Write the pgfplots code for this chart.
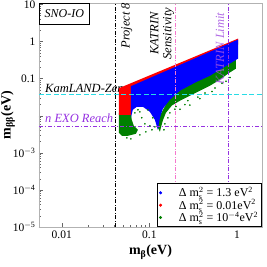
\documentclass[border=0pt]{standalone}
\usepackage{fontspec}
\setmainfont{Liberation Serif}
\usepackage{pgfplots}
\pgfplotsset{compat=1.18}
\definecolor{cyanl}{RGB}{40,220,230}
\definecolor{purp}{RGB}{150,50,225}
\definecolor{purpt}{RGB}{165,85,225}
\definecolor{pinkl}{RGB}{245,120,205}
\definecolor{dgreen}{RGB}{0,128,0}
\pgfplotsset{dotleg/.style={legend image code/.code={\path (0pt,0pt) (17pt,0pt); \draw[##1] plot coordinates {(1pt,0pt)};}}}
\begin{document}
\begin{tikzpicture}
\begin{axis}[
  at={(0,0)}, anchor=south west,
  scale only axis, width=223pt, height=224pt,
  xmode=log, ymode=log,
  xmin=0.0055, xmax=1.93, ymin=1e-5, ymax=11,
  xtick={0.01,0.1,1}, xticklabels={0.01,0.1,1},
  ytick={1e-5,1e-4,1e-3,1e-2,0.1,1,10},
  yticklabels={10\textsuperscript{$-$5},10\textsuperscript{$-$4},10\textsuperscript{$-$3},{},0.1,1,10},
  xtick pos=lower, ytick pos=left,
  tick align=inside,
  major tick length=4pt, minor tick length=2pt,
  tick style={gray!80!black, line width=0.4pt},
  axis line style={draw=gray!60, line width=0.8pt},
  tick label style={font=\fontsize{11.5}{12}\selectfont},
  xlabel={\fontsize{14}{15}\selectfont\textbf{m}\textsubscript{\bfseries β}\textbf{(eV)}},
  ylabel={\fontsize{14}{15}\selectfont\textbf{m}\textsubscript{\bfseries ββ}\textbf{(eV)}},
  ylabel style={at={(axis description cs:-0.139,0.5)}, anchor=center},
  legend style={at={(rel axis cs:1,0)}, anchor=south east, draw=black, line width=0.8pt,
    font=\fontsize{12}{12.5}\selectfont, inner sep=1.5pt, row sep=-2.8pt},
  legend cell align=left,
]
% background text (data drawn over it)
\node[anchor=base west, font=\fontsize{12.5}{13}\selectfont\itshape] at (axis cs:0.0059,0.0419) {KamLAND-Zen};
\node[anchor=base west, font=\fontsize{12.5}{13}\selectfont\itshape, text=purp] at (axis cs:0.0059,0.00647) {n EXO Reach};

% green band (right part)
\addplot[draw=none, fill=dgreen, forget plot] coordinates {
(0.974,0.446) (0.974,0.187) (0.789,0.1365) (0.639,0.094) (0.491,0.0647) (0.378,0.0474)
(0.290,0.0347) (0.2233,0.0254) (0.181,0.0190) (0.1544,0.0120) (0.1426,0.0075)
(0.1353,0.00474) (0.132,0.0037) (0.1219,0.00537) (0.132,0.01) (0.1715,0.0326)} -- cycle;
% green block (left part)
\addplot[draw=none, fill=dgreen, forget plot] coordinates {
(0.0448,0.012) (0.0615,0.012) (0.063,0.0078) (0.0665,0.00537) (0.074,0.00419)
(0.0702,0.00327) (0.0568,0.00288) (0.0485,0.00288) (0.0448,0.00348)} -- cycle;
% red region
\addplot[draw=none, fill=red, forget plot] coordinates {
(0.0448,0.0553) (1.027,1.205) (1.027,0.830) (0.0615,0.0271) (0.0615,0.0105) (0.0448,0.0105)} -- cycle;
% blue region
\addplot[draw=none, fill=blue, forget plot] coordinates {
(0.0615,0.0627) (1.027,1.132) (1.027,0.348) (0.729,0.211) (0.491,0.12) (0.331,0.078)
(0.2233,0.0474) (0.1715,0.0270) (0.1426,0.0155) (0.132,0.00883) (0.125,0.00419)
(0.1156,0.0078) (0.1014,0.0128) (0.0843,0.0175) (0.0720,0.0175) (0.0648,0.0145)
(0.0615,0.00883)} -- cycle;
% scattered green points
\addplot[only marks, mark=*, mark size=0.6pt, dgreen, forget plot] coordinates {
(0.674,0.075) (0.561,0.056) (0.431,0.041) (0.358,0.032) (0.275,0.0255) (0.2545,0.0200)
(0.2009,0.0178) (0.1715,0.0120) (0.1627,0.00883) (0.1955,0.0150) (0.378,0.0290)
(0.518,0.0450) (0.290,0.0195) (0.1503,0.00608) (0.1465,0.00419) (0.2233,0.0150)
(0.832,0.1080) (0.7485,0.085) (0.0889,0.00608) (0.1014,0.00537) (0.082,0.00883)
(0.0779,0.0128) (0.1096,0.00883) (0.0961,0.0145) (0.074,0.0145) (0.0683,0.012)
(0.0553,0.00254) (0.0615,0.00239) (0.0779,0.00306) (0.0912,0.0037) (0.1069,0.00419)
(0.1156,0.00505)};

% reference lines
\addplot[cyanl, line width=1.3pt, dash pattern=on 5pt off 2.5pt, forget plot] coordinates {(0.0055,0.037) (1.93,0.037)};
\addplot[purp, line width=1.1pt, dash pattern=on 4pt off 2pt on 1pt off 2pt, forget plot] coordinates {(0.0055,0.005) (1.93,0.005)};
\addplot[black, line width=0.8pt, dash pattern=on 4pt off 1.5pt on 1pt off 1.5pt, forget plot] coordinates {(0.041,1e-5) (0.041,11)};
\addplot[pinkl, line width=0.8pt, dash pattern=on 4pt off 1.5pt on 1pt off 1.5pt, forget plot] coordinates {(0.2,1e-5) (0.2,11)};
\addplot[purp, line width=0.9pt, dash pattern=on 4pt off 1.5pt on 1pt off 1.5pt, forget plot] coordinates {(0.8,1e-5) (0.8,11)};

% annotations
\node[rotate=90, font=\fontsize{12.5}{13}\selectfont\itshape] at (axis cs:0.0553,2.7) {Project 8};
\node[rotate=90, align=center, font=\fontsize{12.5}{13}\selectfont\itshape] at (axis cs:0.14,1.64) {KATRIN\\Sensitivity};
\node[rotate=90, font=\fontsize{12.5}{13}\selectfont\itshape, text=purpt, text opacity=0.85] at (axis cs:0.639,0.647) {KATRIN Limit};
\node[draw=black, line width=0.6pt, anchor=north west, minimum width=50pt, minimum height=21pt,
  font=\fontsize{12}{13}\selectfont\itshape] at (rel axis cs:0,1) {SNO-IO};

% legend
\addlegendimage{only marks, mark=*, mark size=1.1pt, blue, dotleg}
\addlegendentry{Δ $\mathrm{m}_\mathrm{s}^2$ = 1.3 eV\textsuperscript{2}}
\addlegendimage{only marks, mark=*, mark size=1.1pt, red, dotleg}
\addlegendentry{Δ $\mathrm{m}_\mathrm{s}^2$ = 0.01eV\textsuperscript{2}}
\addlegendimage{only marks, mark=*, mark size=1.1pt, dgreen, dotleg}
\addlegendentry{Δ $\mathrm{m}_\mathrm{s}^2$ = 10\textsuperscript{$-$4}eV\textsuperscript{2}}
\end{axis}
\pgfresetboundingbox
\path (-39pt,-40pt) rectangle (227pt,227pt);
\end{tikzpicture}
\end{document}
